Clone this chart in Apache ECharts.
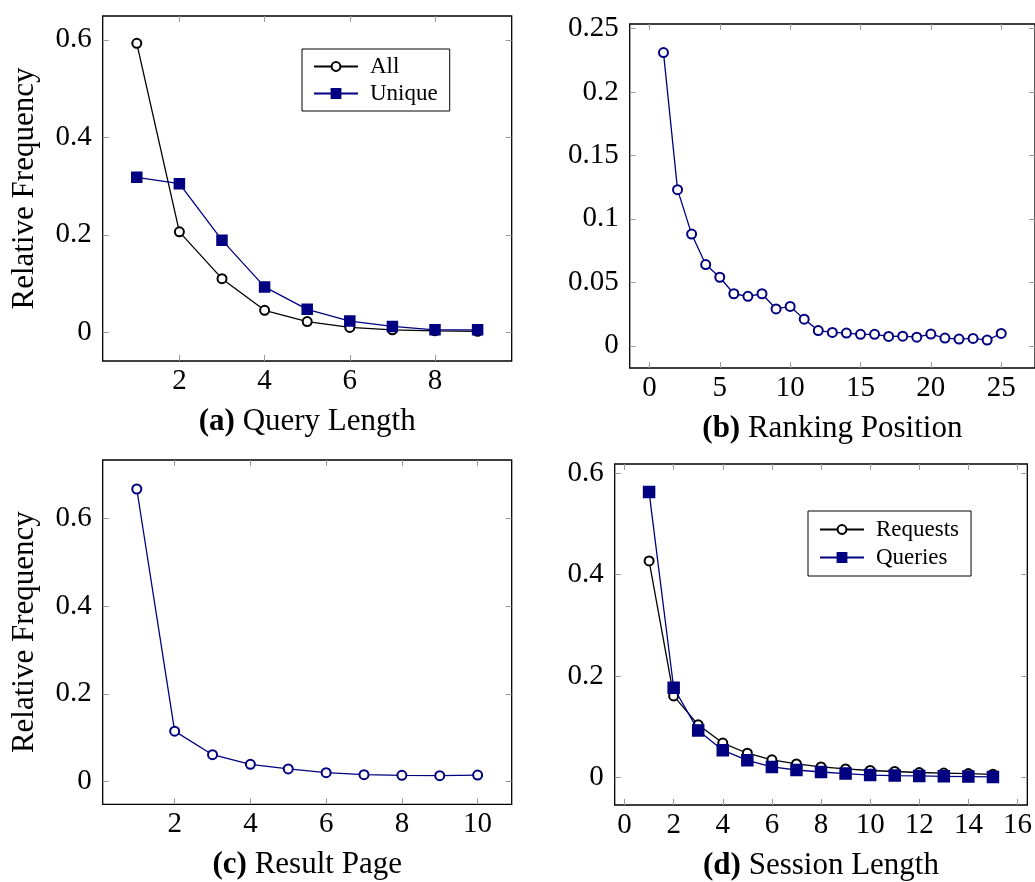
<!DOCTYPE html>
<html>
<head>
<meta charset="utf-8">
<script src="https://cdn.jsdelivr.net/npm/echarts@6/dist/echarts.min.js"></script>
<style>
html,body{margin:0;padding:0;background:#fff;}
#c{width:1035px;height:882px;}
</style>
</head>
<body>
<div id="c"></div>
<script>
// ---- Data ----
const queryLenX = [1, 2, 3, 4, 5, 6, 7, 8, 9];
const queryLenAll = [0.593, 0.206, 0.110, 0.045, 0.022, 0.010, 0.005, 0.003, 0.002];
const queryLenUnique = [0.318, 0.305, 0.189, 0.093, 0.047, 0.023, 0.012, 0.005, 0.005];

const rankX = [1,2,3,4,5,6,7,8,9,10,11,12,13,14,15,16,17,18,19,20,21,22,23,24,25];
const rankFreq = [0.231, 0.123, 0.088, 0.064, 0.054, 0.041, 0.039, 0.041, 0.029, 0.031,
                  0.021, 0.012, 0.0105, 0.010, 0.009, 0.009, 0.0074, 0.0076, 0.0068, 0.0092,
                  0.0061, 0.0053, 0.0058, 0.0045, 0.0097];

const pageX = [1,2,3,4,5,6,7,8,9,10];
const pageFreq = [0.666, 0.115, 0.0615, 0.0395, 0.029, 0.0205, 0.016, 0.0145, 0.0137, 0.0152];

const sessX = [1,2,3,4,5,6,7,8,9,10,11,12,13,14,15];
const sessRequests = [0.427, 0.161, 0.104, 0.068, 0.048, 0.035, 0.027, 0.021, 0.017, 0.014,
                      0.012, 0.010, 0.009, 0.008, 0.0065];
const sessQueries = [0.563, 0.177, 0.093, 0.054, 0.034, 0.021, 0.015, 0.011, 0.008, 0.005,
                     0.004, 0.0033, 0.0026, 0.002, 0.0013];

// tick values
const ticksXa = [2, 4, 6, 8];
const ticksYa = [0, 0.2, 0.4, 0.6];
const ticksXb = [0, 5, 10, 15, 20, 25];
const ticksYb = [0, 0.05, 0.1, 0.15, 0.2, 0.25];
const ticksXc = [2, 4, 6, 8, 10];
const ticksYc = [0, 0.2, 0.4, 0.6];
const ticksXd = [0, 2, 4, 6, 8, 10, 12, 14, 16];
const ticksYd = [0, 0.2, 0.4, 0.6];

const captions = ['{b|(a)} Query Length', '{b|(b)} Ranking Position', '{b|(c)} Result Page', '{b|(d)} Session Length'];
const yLabel = 'Relative Frequency';

// ---- Style ----
const FONT = 'Liberation Serif';
const NAVY = '#000080';
const TICK_COL = '#9a9a9a';
const FS = 29;
const FS_CAP = 31;

const panels = [
  {grid:{left:102.7, top:16, width:409, height:345}, xr:[0.2, 9.8], yr:[-0.059, 0.649], xt:ticksXa, yt:ticksYa, ylab:true},
  {grid:{left:629.7, top:24, width:414.7, height:344}, xr:[-1.4, 27.4], yr:[-0.0175, 0.2535], xt:ticksXb, yt:ticksYb, ylab:false},
  {grid:{left:102.7, top:460, width:409, height:344.3}, xr:[0.1, 10.9], yr:[-0.0514, 0.732], xt:ticksXc, yt:ticksYc, ylab:true},
  {grid:{left:614.7, top:464, width:414.6, height:344.3}, xr:[-0.4, 16.4], yr:[-0.054, 0.618], xt:ticksXd, yt:ticksYd, ylab:false}
];

const fmt = v => String(+(+v).toFixed(3));

const grids = [], xAxes = [], yAxes = [];
panels.forEach((p, i) => {
  grids.push(Object.assign({show:true, borderColor:'#000', borderWidth:1.3, backgroundColor:'transparent', containLabel:false}, p.grid));
  const tick = (vals) => ({show:true, inside:true, length:6, customValues:vals, lineStyle:{color:TICK_COL, width:1}});
  const noLine = {show:false, onZero:false};
  xAxes.push({
    type:'value', gridIndex:i, position:'bottom', min:p.xr[0], max:p.xr[1],
    axisLine:noLine, splitLine:{show:false},
    axisTick:tick(p.xt),
    axisLabel:{customValues:p.xt, formatter:fmt, margin:6, fontFamily:FONT, fontSize:FS, color:'#000'},
    name:captions[i], nameLocation:'middle', nameGap:45,
    nameTextStyle:{fontFamily:FONT, fontSize:FS_CAP, color:'#000', rich:{b:{fontFamily:FONT, fontSize:FS_CAP, fontWeight:'bold', color:'#000'}}}
  });
  xAxes.push({
    type:'value', gridIndex:i, position:'top', min:p.xr[0], max:p.xr[1],
    axisLine:noLine, splitLine:{show:false},
    axisTick:tick(p.xt), axisLabel:{show:false}
  });
  yAxes.push({
    type:'value', gridIndex:i, position:'left', min:p.yr[0], max:p.yr[1],
    axisLine:noLine, splitLine:{show:false},
    axisTick:tick(p.yt),
    axisLabel:{customValues:p.yt, formatter:fmt, margin:11, padding:[5,0,0,0], fontFamily:FONT, fontSize:FS, color:'#000'},
    name:p.ylab ? yLabel : '', nameLocation:'middle', nameGap:62,
    nameTextStyle:{fontFamily:FONT, fontSize:FS_CAP, color:'#000'}
  });
  yAxes.push({
    type:'value', gridIndex:i, position:'right', min:p.yr[0], max:p.yr[1],
    axisLine:noLine, splitLine:{show:false},
    axisTick:tick(p.yt), axisLabel:{show:false}
  });
});

const pairs = (xs, ys) => xs.map((x, k) => [x, ys[k]]);

function lineSeries(name, panel, xs, ys, color, symbol, size, z) {
  return {
    name, type:'line', xAxisIndex:panel*2, yAxisIndex:panel*2,
    data:pairs(xs, ys), symbol, symbolSize:size, showSymbol:true,
    lineStyle:{color, width:1.3},
    itemStyle:{color, borderColor:color, borderWidth:1.5},
    emphasis:{disabled:true}, animation:false, z
  };
}

const series = [
  lineSeries('All', 0, queryLenX, queryLenAll, '#000', 'emptyCircle', 9, 2),
  lineSeries('Unique', 0, queryLenX, queryLenUnique, NAVY, 'rect', 10, 3),
  lineSeries('Ranking', 1, rankX, rankFreq, NAVY, 'emptyCircle', 9, 2),
  lineSeries('Page', 2, pageX, pageFreq, NAVY, 'emptyCircle', 9, 2),
  lineSeries('Requests', 3, sessX, sessRequests, '#000', 'emptyCircle', 9, 2),
  lineSeries('Queries', 3, sessX, sessQueries, NAVY, 'rect', 11, 3)
];

const legendBase = {
  orient:'vertical', borderColor:'#000', borderWidth:1, backgroundColor:'#fff',
  itemWidth:44, itemHeight:11, itemGap:4, selectedMode:false,
  textStyle:{fontFamily:FONT, fontSize:23, color:'#000', padding:[0,0,0,7]}
};

const option = {
  animation:false,
  textStyle:{fontFamily:FONT},
  grid:grids, xAxis:xAxes, yAxis:yAxes, series,
  legend:[
    Object.assign({}, legendBase, {data:['All','Unique'], left:302, top:49, padding:[6,12,6,11]}),
    Object.assign({}, legendBase, {data:['Requests','Queries'], left:808, top:511, padding:[7,12,7,11], itemGap:5})
  ]
};

const chart = echarts.init(document.getElementById('c'), null, {renderer:'canvas'});
chart.setOption(option);
</script>
</body>
</html>
